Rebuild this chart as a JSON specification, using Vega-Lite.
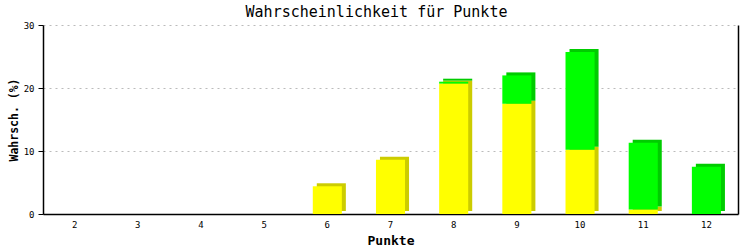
{
  "$schema": "https://vega.github.io/schema/vega-lite/v6.json",
  "width": 695,
  "height": 189,
  "autosize": {"type": "none"},
  "padding": {"left": 43, "top": 25, "right": 15, "bottom": 36},
  "background": "white",
  "title": {
    "text": "Wahrscheinlichkeit für Punkte",
    "font": "DejaVu Sans Mono",
    "fontSize": 15,
    "fontWeight": "normal",
    "color": "black",
    "anchor": "middle",
    "dx": -14,
    "offset": 1
  },
  "config": {
    "view": {"stroke": null},
    "axis": {
      "labelFont": "DejaVu Sans Mono",
      "labelFontSize": 9,
      "labelColor": "black",
      "titleFont": "DejaVu Sans Mono",
      "titleFontSize": 12,
      "titleFontWeight": "bold",
      "titleColor": "black",
      "domainColor": "black",
      "tickColor": "black"
    }
  },
  "data": {
    "values": [
      {"Punkte": 2, "Teil": "A", "Wert": 0},
      {"Punkte": 3, "Teil": "A", "Wert": 0},
      {"Punkte": 4, "Teil": "A", "Wert": 0},
      {"Punkte": 5, "Teil": "A", "Wert": 0},
      {"Punkte": 6, "Teil": "A", "Wert": 4.4},
      {"Punkte": 7, "Teil": "A", "Wert": 8.6},
      {"Punkte": 8, "Teil": "A", "Wert": 20.7},
      {"Punkte": 8, "Teil": "B", "Wert": 0.3},
      {"Punkte": 9, "Teil": "A", "Wert": 17.5},
      {"Punkte": 9, "Teil": "B", "Wert": 4.5},
      {"Punkte": 10, "Teil": "A", "Wert": 10.2},
      {"Punkte": 10, "Teil": "B", "Wert": 15.5},
      {"Punkte": 11, "Teil": "A", "Wert": 0.7},
      {"Punkte": 11, "Teil": "B", "Wert": 10.6},
      {"Punkte": 12, "Teil": "B", "Wert": 7.5}
    ]
  },
  "encoding": {
    "x": {
      "field": "Punkte",
      "type": "ordinal",
      "scale": {"paddingInner": 0.54, "paddingOuter": 0.27},
      "axis": {
        "title": "Punkte",
        "titleFontSize": 13,
        "labelAngle": 0,
        "ticks": false,
        "labelPadding": 6,
        "titlePadding": 5,
        "domainWidth": 1.5
      }
    },
    "y": {
      "field": "Wert",
      "type": "quantitative",
      "aggregate": "sum",
      "stack": "zero",
      "scale": {"domain": [0, 30]}
    },
    "order": {"field": "Teil"}
  },
  "layer": [
    {
      "mark": {"type": "bar", "xOffset": 4, "yOffset": -3},
      "encoding": {
        "y": {
          "field": "Wert",
          "type": "quantitative",
          "aggregate": "sum",
          "stack": "zero",
          "scale": {"domain": [0, 30]},
          "axis": {
            "title": "Wahrsch. (%)",
            "titleFontSize": 11.5,
            "values": [0, 10, 20, 30],
            "tickSize": 5,
            "labelPadding": 4,
            "titlePadding": 4,
            "grid": true,
            "gridColor": "#bbbbbb",
            "gridDash": [2, 4],
            "domainWidth": 1.5
          }
        },
        "color": {
          "field": "Teil",
          "type": "nominal",
          "scale": {"domain": ["A", "B"], "range": ["#cccc00", "#00cc00"]},
          "legend": null
        }
      }
    },
    {
      "mark": {"type": "bar"},
      "encoding": {
        "y": {
          "field": "Wert",
          "type": "quantitative",
          "aggregate": "sum",
          "stack": "zero",
          "scale": {"domain": [0, 30]},
          "axis": {
            "orient": "right",
            "title": null,
            "labels": false,
            "ticks": false,
            "grid": false,
            "domainWidth": 1.5
          }
        },
        "color": {
          "field": "Teil",
          "type": "nominal",
          "scale": {"domain": ["A", "B"], "range": ["#ffff00", "#00ff00"]},
          "legend": null
        }
      }
    }
  ],
  "resolve": {"scale": {"color": "independent"}, "axis": {"y": "independent"}}
}
